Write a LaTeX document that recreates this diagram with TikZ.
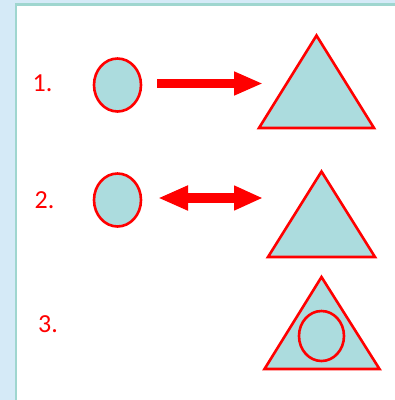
\documentclass[tikz,border=0pt]{standalone}
\usepackage{fontspec}
\setmainfont{Carlito}
\usetikzlibrary{arrows.meta,shapes.geometric}
\definecolor{pagebg}{HTML}{D5EAF7}
\definecolor{panelrim}{HTML}{9FD6CF}
\definecolor{shapefill}{HTML}{ACDCDE}
\definecolor{strokered}{HTML}{FF0000}
\tikzset{
  blob/.style={ellipse, draw=strokered, fill=shapefill, line width=2.6pt, inner sep=0pt},
  tri/.style={draw=strokered, fill=shapefill, line width=2.6pt, line join=miter},
  numlabel/.style={text=strokered, font=\fontsize{26}{28}\selectfont, inner sep=0pt},
  fatarrow/.style={strokered, line width=9pt, -{Triangle[length=29pt,width=22pt]}},
  fatdouble/.style={strokered, line width=10pt, {Triangle[length=30pt,width=23pt]}-{Triangle[length=29pt,width=23pt]}},
}
\begin{document}
\begin{tikzpicture}[x=1pt,y=-1pt]
  \useasboundingbox (0,0) rectangle (395,400);
  % page and panel
  \fill[pagebg] (0,0) rectangle (395,400);
  \draw[panelrim, line width=2.5pt, fill=white] (16,4.5) rectangle (420,420);

  % row labels
  \node[numlabel] (n1) at (42.5,83) {1.};
  \node[numlabel] (n2) at (44.5,200) {2.};
  \node[numlabel] (n3) at (48,324) {3.};

  % row 1
  \node[blob, minimum width=47pt, minimum height=53pt] (c1) at (117.5,85) {};
  \coordinate (t1a) at (316.5,35.5);
  \coordinate (t1b) at (374,128);
  \coordinate (t1c) at (259,128);
  \draw[tri] (t1a) -- (t1b) -- (t1c) -- cycle;
  \coordinate (a1s) at (157,83.5);
  \coordinate (a1e) at (263,83.5);
  \draw[fatarrow] (a1s) -- (a1e);

  % row 2
  \node[blob, minimum width=47pt, minimum height=53pt] (c2) at (117.5,200) {};
  \coordinate (t2a) at (321.5,171.5);
  \coordinate (t2b) at (375,257);
  \coordinate (t2c) at (268,257);
  \draw[tri] (t2a) -- (t2b) -- (t2c) -- cycle;
  \coordinate (a2s) at (158,198);
  \coordinate (a2e) at (263,198);
  \draw[fatdouble] (a2s) -- (a2e);

  % row 3
  \coordinate (t3a) at (321.5,277);
  \coordinate (t3b) at (379.5,369);
  \coordinate (t3c) at (264.5,369);
  \draw[tri] (t3a) -- (t3b) -- (t3c) -- cycle;
  \node[blob, minimum width=45pt, minimum height=50pt] (c3) at (321.5,336) {};
\end{tikzpicture}
\end{document}
